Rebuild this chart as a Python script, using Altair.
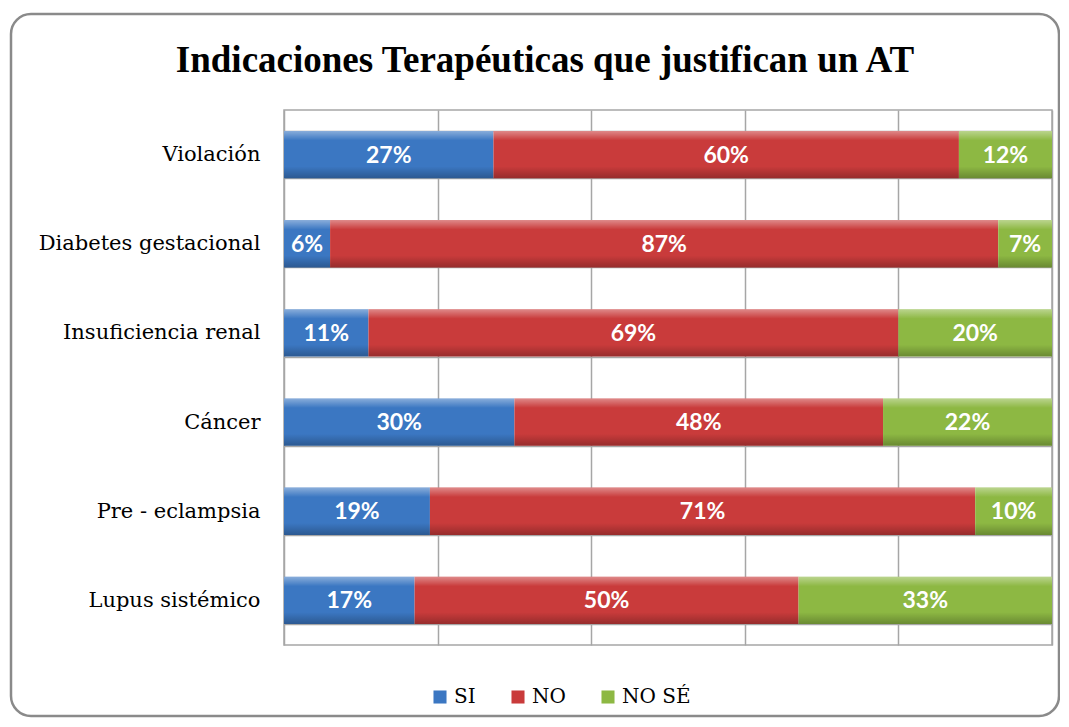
import altair as alt
import pandas as pd

categories = ["Violación", "Diabetes gestacional", "Insuficiencia renal",
              "Cáncer", "Pre - eclampsia", "Lupus sistémico"]
series = ["SI", "NO", "NO SÉ"]
si = [27, 6, 11, 30, 19, 17]
no = [60, 87, 69, 48, 71, 50]
nose = [12, 7, 20, 22, 10, 33]
colors = ["#3B77C2", "#C93B3B", "#8DB843"]

TITLE_FONT = "Liberation Serif"
LABEL_FONT = "DejaVu Serif"

rows = []
for i, c in enumerate(categories):
    for j, (s, vals) in enumerate(zip(series, [si, no, nose])):
        rows.append({"cat": c, "serie": s, "ord": j, "value": vals[i]})
df = pd.DataFrame(rows)

W, H = 768, 535

base = alt.Chart(df).transform_stack(
    stack="value", groupby=["cat"], as_=["x0", "x1"],
    sort=[alt.SortField("ord")], offset="normalize"
).transform_calculate(
    mid="(datum.x0 + datum.x1) / 2",
    label="datum.value + '%'"
)

yscale = alt.Scale(paddingInner=0.47, paddingOuter=0.235)
yaxis = alt.Axis(domain=False, ticks=False, grid=True, tickBand="extent",
                 labelFont=LABEL_FONT, labelFontSize=21, labelLimit=0,
                 labelColor="#000000", labelPadding=24,
                 gridColor="#a6a6a6", gridWidth=1.5)
xscale = alt.Scale(domain=[0, 1], nice=False)
xaxis = alt.Axis(values=[0, 0.2, 0.4, 0.6, 0.8, 1.0], labels=False, ticks=False,
                 domain=False, grid=True, gridColor="#a6a6a6", gridWidth=1.5, title=None)

yenc = alt.Y("cat:N", sort=categories, title=None, scale=yscale, axis=yaxis)

bars = base.mark_bar().encode(
    y=yenc,
    x=alt.X("x0:Q", scale=xscale, axis=xaxis),
    x2="x1:Q",
    color=alt.Color("serie:N", sort=series,
                    scale=alt.Scale(domain=series, range=colors),
                    legend=alt.Legend(title=None, orient="none", direction="horizontal",
                                      legendX=146, legendY=577,
                                      symbolType="square", symbolSize=170,
                                      symbolStrokeWidth=0, labelFont=LABEL_FONT,
                                      labelFontSize=20, labelColor="#000000",
                                      columnPadding=32, labelOffset=4)),
)

shade = base.mark_bar(
    color=alt.Gradient(
        gradient="linear", x1=0, y1=0, x2=0, y2=1,
        stops=[alt.GradientStop(color="rgba(255,255,255,0.4)", offset=0),
               alt.GradientStop(color="rgba(255,255,255,0.0)", offset=0.2),
               alt.GradientStop(color="rgba(0,0,0,0.0)", offset=0.75),
               alt.GradientStop(color="rgba(0,0,0,0.25)", offset=1)])
).encode(
    y=yenc,
    x=alt.X("x0:Q", scale=xscale, axis=xaxis),
    x2="x1:Q",
)

texts = base.mark_text(font="Lato", fontWeight="bold", fontSize=23,
                       color="white", baseline="middle", dy=1).encode(
    y=yenc,
    x=alt.X("mid:Q", scale=xscale, axis=xaxis),
    text="label:N",
)

frame = alt.Chart(pd.DataFrame({"a": [0]})).mark_rect(
    fillOpacity=0, stroke="#8a8a8a", strokeWidth=2.5, cornerRadius=20
).encode(
    x=alt.value(-273), x2=alt.value(775),
    y=alt.value(-96), y2=alt.value(606),
)

chart = alt.layer(bars, shade, texts, frame).properties(
    width=W, height=H,
    title=alt.Title("Indicaciones Terapéuticas que justifican un AT",
                    font=TITLE_FONT, fontSize=37, fontWeight="bold",
                    color="#000000", anchor="middle", dx=-123, offset=-96,
                    baseline="alphabetic"),
    autosize=alt.AutoSizeParams(type="none"),
    padding={"left": 276, "top": 102, "right": 8, "bottom": 73},
).configure(
    background="white"
).configure_view(
    stroke="#a6a6a6", strokeWidth=1.5
)

chart.save("out.html", embed_options={"renderer": "svg", "actions": False})
